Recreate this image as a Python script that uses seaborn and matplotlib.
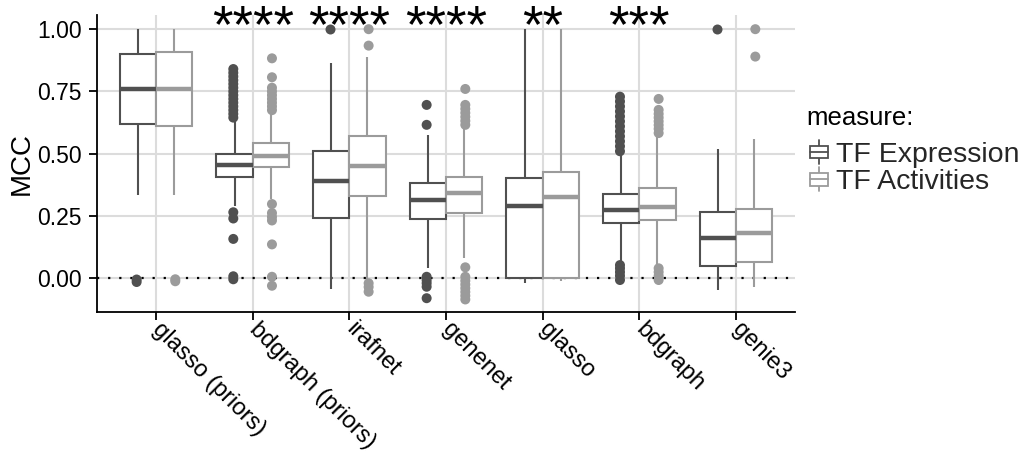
import matplotlib
matplotlib.use("Agg")
import matplotlib.pyplot as plt
from matplotlib.legend_handler import HandlerBase
from matplotlib.patches import Rectangle
from matplotlib.lines import Line2D
import numpy as np
import pandas as pd
import seaborn as sns

# --- data -------------------------------------------------------------
methods = ["glasso (priors)", "bdgraph (priors)", "irafnet", "genenet",
           "glasso", "bdgraph", "genie3"]
measures = ["TF Expression", "TF Activities"]

# five-number summaries (lower whisker, Q1, median, Q3, upper whisker)
expr_low = [0.335, 0.290, -0.043, 0.040, -0.020, 0.067, -0.047]
expr_q1 = [0.618, 0.407, 0.243, 0.238, 0.000, 0.223, 0.051]
expr_med = [0.759, 0.456, 0.391, 0.314, 0.292, 0.274, 0.163]
expr_q3 = [0.900, 0.500, 0.511, 0.383, 0.402, 0.340, 0.265]
expr_high = [1.000, 0.630, 0.863, 0.575, 1.000, 0.495, 0.519]

act_low = [0.335, 0.318, -0.007, 0.080, -0.010, 0.053, -0.034]
act_q1 = [0.612, 0.446, 0.332, 0.263, 0.000, 0.234, 0.064]
act_med = [0.759, 0.491, 0.452, 0.341, 0.325, 0.288, 0.181]
act_q3 = [0.910, 0.542, 0.571, 0.408, 0.428, 0.364, 0.278]
act_high = [1.000, 0.663, 0.887, 0.609, 1.000, 0.575, 0.559]

# outlying MCC values per method
expr_outliers = [
    [-0.005, -0.015],
    [0.645, 0.66, 0.675, 0.69, 0.705, 0.72, 0.735, 0.75, 0.765, 0.78,
     0.795, 0.81, 0.825, 0.84, 0.265, 0.240, 0.158, 0.008, -0.004],
    [1.000],
    [0.696, 0.616, 0.006, -0.008, -0.020, -0.034, -0.080],
    [],
    [0.729, 0.71, 0.69, 0.67, 0.65, 0.63, 0.61, 0.59, 0.57, 0.55, 0.53,
     0.51, 0.053, 0.040, 0.025, 0.010, -0.007],
    [1.000],
]
act_outliers = [
    [-0.004, -0.012],
    [0.883, 0.807, 0.765, 0.75, 0.735, 0.72, 0.705, 0.69, 0.675,
     0.298, 0.262, 0.246, 0.232, 0.136, 0.006, -0.030],
    [1.000, 0.934, -0.020, -0.035, -0.054],
    [0.760, 0.696, 0.68, 0.664, 0.648, 0.632, 0.616, 0.044, 0.006,
     -0.010, -0.025, -0.040, -0.055, -0.070, -0.085],
    [],
    [0.720, 0.676, 0.66, 0.645, 0.63, 0.615, 0.60, 0.583, 0.040,
     0.025, 0.010, -0.007],
    [1.000, 0.890],
]

stars = ["", "****", "****", "****", "**", "***", ""]

dark = "#505050"
light = "#9b9b9b"
palette = {"TF Expression": dark, "TF Activities": light}

# --- long-form tables ---------------------------------------------------
rows = []
summaries = {
    "TF Expression": (expr_low, expr_q1, expr_med, expr_q3, expr_high),
    "TF Activities": (act_low, act_q1, act_med, act_q3, act_high),
}
for meas, cols in summaries.items():
    for i, m in enumerate(methods):
        for col in cols:
            rows.append({"method": m, "measure": meas, "MCC": col[i]})
box_df = pd.DataFrame(rows)

orows = []
for meas, outs in (("TF Expression", expr_outliers),
                   ("TF Activities", act_outliers)):
    for m, vals in zip(methods, outs):
        for v in vals:
            orows.append({"method": m, "measure": meas, "MCC": v})
out_df = pd.DataFrame(orows)

# --- style --------------------------------------------------------------
sns.set_theme(style="ticks")
plt.rcParams["font.family"] = ["Liberation Sans", "DejaVu Sans"]

fig = plt.figure(figsize=(10.21, 4.54), dpi=100)
ax = fig.add_axes([0.095, 0.313, 0.6836, 0.654])
ax.set_axisbelow(True)

sns.boxplot(
    data=box_df, x="method", y="MCC", hue="measure", hue_order=measures,
    order=methods, palette={k: "white" for k in measures}, linecolor=dark,
    width=0.75, whis=(0, 100), linewidth=1.5, showcaps=False,
    medianprops={"linewidth": 3.2}, legend=False, ax=ax,
)
# outline each measure's boxes in its own grey
for cont, meas in zip(ax.containers, measures):
    col = palette[meas]
    for b in cont.boxes:
        b.set_edgecolor(col)
        b.set_facecolor("white")
    for ln in list(cont.whiskers) + list(cont.medians):
        ln.set_color(col)

sns.stripplot(
    data=out_df, x="method", y="MCC", hue="measure", hue_order=measures,
    order=methods, palette=palette, dodge=True, jitter=False, size=7.2,
    linewidth=0, legend=False, ax=ax, zorder=3,
)

ax.axhline(0, color="black", linestyle=(0, (1, 4)), linewidth=1.6, zorder=1)

# significance labels
for i, s in enumerate(stars):
    if s:
        ax.text(i, 0.95, s, ha="center", va="baseline", fontsize=38,
                color="black")

ax.set_xlim(-0.61, 6.61)
ax.set_ylim(-0.135, 1.057)
ax.set_yticks([0, 0.25, 0.5, 0.75, 1.0])
ax.set_yticklabels(["0.00", "0.25", "0.50", "0.75", "1.00"], fontsize=16.5,
                   color="black")
ax.set_xticks(range(len(methods)))
ax.set_xticklabels(methods, rotation=-45, ha="left", va="center",
                   rotation_mode="anchor", fontsize=17, color="black")
ax.set_xlabel("")
ax.set_ylabel("MCC", fontsize=20, color="black", labelpad=2)

ax.grid(True, color="#dcdcdc", linewidth=1.5)
for side in ("top", "right"):
    ax.spines[side].set_visible(False)
for side in ("left", "bottom"):
    ax.spines[side].set_color("black")
    ax.spines[side].set_linewidth(1.3)
ax.tick_params(axis="y", length=6, width=1.3, color="black", pad=5)
ax.tick_params(axis="x", length=6, width=1.3, color="black", pad=4)


class BoxGlyph(HandlerBase):
    def create_artists(self, legend, orig_handle, xdescent, ydescent,
                       width, height, fontsize, trans):
        c = orig_handle.get_edgecolor()
        x0, y0 = -xdescent, -ydescent
        bw, bh = width, height * 0.62
        by = y0 + (height - bh) / 2
        box = Rectangle((x0, by), bw, bh, facecolor="white", edgecolor=c,
                        linewidth=1.3, transform=trans)
        cx = x0 + bw / 2
        med = Line2D([x0, x0 + bw], [y0 + height / 2] * 2, color=c,
                     linewidth=1.3, transform=trans)
        w1 = Line2D([cx, cx], [y0 - height * 0.1, by], color=c,
                    linewidth=1.3, transform=trans)
        w2 = Line2D([cx, cx], [by + bh, y0 + height * 1.1], color=c,
                    linewidth=1.3, transform=trans)
        return [w1, w2, box, med]


fig.text(806 / 1021, 1 - 118 / 454, "measure:", fontsize=18.5,
         ha="left", va="center", color="black")
handles = [Rectangle((0, 0), 1, 1, edgecolor=palette[m], facecolor="white")
           for m in measures]
leg = fig.legend(
    handles, measures, loc="upper left",
    bbox_to_anchor=(810 / 1021, 1 - 142 / 454), frameon=False,
    fontsize=20.5, handlelength=0.62, handleheight=0.7,
    handletextpad=0.3, labelspacing=0.05, borderpad=0, borderaxespad=0,
    handler_map={Rectangle: BoxGlyph()},
)

fig.savefig("out.png", dpi=100)
